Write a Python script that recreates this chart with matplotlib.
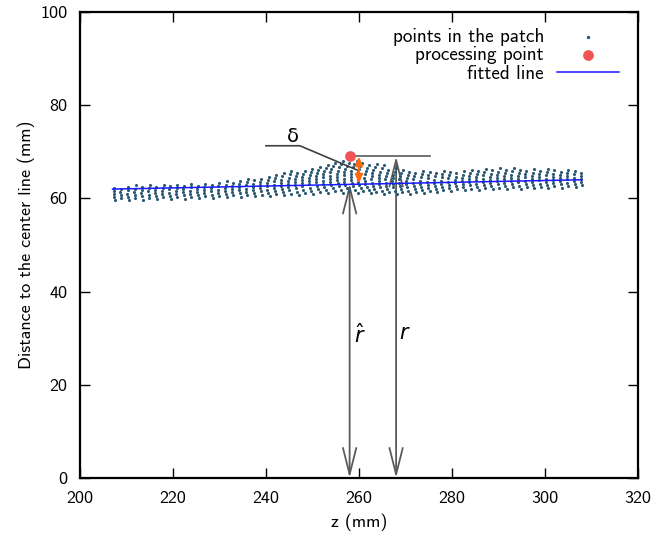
import matplotlib
matplotlib.use("Agg")
import matplotlib.pyplot as plt
import numpy as np

plt.rcParams["font.family"] = ["cmss10", "DejaVu Sans"]
plt.rcParams["mathtext.fontset"] = "dejavusans"
plt.rcParams["axes.unicode_minus"] = False

# envelope of the point cloud (z in mm, r in mm)
env_z = [207, 215, 225, 235, 243, 250, 255, 259, 263, 267, 272, 280, 290, 300, 308]
env_low = [59.6, 59.8, 60.0, 60.4, 60.6, 61.0, 61.2, 61.2, 61.0, 61.0, 61.0, 61.6, 62.0, 62.2, 62.5]
env_high = [62.6, 62.9, 63.2, 64.0, 65.5, 66.8, 68.0, 68.3, 67.5, 66.5, 66.0, 66.0, 66.5, 66.5, 66.2]

# scan columns of the patch
col_z = np.arange(207.5, 308.6, 1.5)
col_step = 0.68

# fitted line end points
fit_z = [207, 308]
fit_r = [62.0, 64.0]

# processing point
proc_z = 258.0
proc_r = 69.0
foot_r = 63.2  # fitted line value under the processing point
r_z = 268.0

xticks = [200, 220, 240, 260, 280, 300, 320]
yticks = [0, 20, 40, 60, 80, 100]

pts_z, pts_r = [], []
for i, z in enumerate(col_z):
    lo = np.interp(z, env_z, env_low)
    hi = np.interp(z, env_z, env_high)
    rs = np.arange(lo + (i % 2) * col_step / 2, hi, col_step)
    mid = 0.5 * (lo + hi)
    pts_z.extend(z + 0.12 * (rs - mid) ** 2 - 0.3)
    pts_r.extend(rs)

fig = plt.figure(figsize=(6.57, 5.46), dpi=100)
ax = fig.add_axes([0.1218, 0.1245, 0.849, 0.8535])

ax.scatter(pts_z, pts_r, s=5, color="#2b5873", linewidths=0, label="points in the patch", zorder=3)
ax.scatter([proc_z], [proc_r], s=60, color="#f05454", linewidths=0, label="processing point", zorder=5)
ax.plot(fit_z, fit_r, color="#1a1aff", lw=1.1, label="fitted line", zorder=4)

gray = "#5a5a5a"
ax.annotate("", xy=(proc_z, foot_r), xytext=(proc_z, 0),
            arrowprops=dict(arrowstyle="<->,head_length=0.95,head_width=0.24", color=gray,
                            lw=1.3, shrinkA=0, shrinkB=0, mutation_scale=20), zorder=2)
ax.annotate("", xy=(r_z, proc_r), xytext=(r_z, 0),
            arrowprops=dict(arrowstyle="<->,head_length=0.95,head_width=0.24", color=gray,
                            lw=1.3, shrinkA=0, shrinkB=0, mutation_scale=20), zorder=2)
ax.plot([proc_z, 275.3], [proc_r, proc_r], color=gray, lw=1.2, zorder=2)
ax.annotate("", xy=(260.0, proc_r), xytext=(260.0, foot_r),
            arrowprops=dict(arrowstyle="<|-|>,head_length=0.5,head_width=0.22", color="#ff6a0f",
                            lw=1.6, shrinkA=0, shrinkB=0, mutation_scale=10), zorder=6)

# delta leader line
ax.plot([240.0, 247.3, 259.6], [71.3, 71.3, 66.1], color="#404040", lw=1.2, zorder=6)
ax.text(245.8, 73.3, "δ", fontsize=14, ha="center", va="center", family=["DejaVu Sans"])
ax.text(260.2, 30.7, r"$\hat{r}$", fontsize=15, ha="center", va="center")
ax.text(269.9, 31.0, r"$r$", fontsize=15, ha="center", va="center")

ax.set_xlim(200, 320)
ax.set_ylim(0, 100)
ax.set_xticks(xticks)
ax.set_yticks(yticks)
ax.tick_params(direction="in", length=7, width=1.0, top=True, right=True, labelsize=13, pad=9)
for sp in ax.spines.values():
    sp.set_linewidth(1.6)
ax.set_xlabel("z (mm)", fontsize=13, labelpad=6)
ax.set_ylabel("Distance to the center line (mm)", fontsize=13, labelpad=4)

leg = ax.legend(loc="upper right", bbox_to_anchor=(0.99, 0.995), markerfirst=False,
                frameon=False, fontsize=13.8, handlelength=3.2, labelspacing=0.02,
                borderaxespad=0.3, handletextpad=0.7, scatterpoints=1)
leg.legend_handles[0].set_sizes([6])
leg.legend_handles[1].set_sizes([60])

fig.savefig("out.png", dpi=100)
